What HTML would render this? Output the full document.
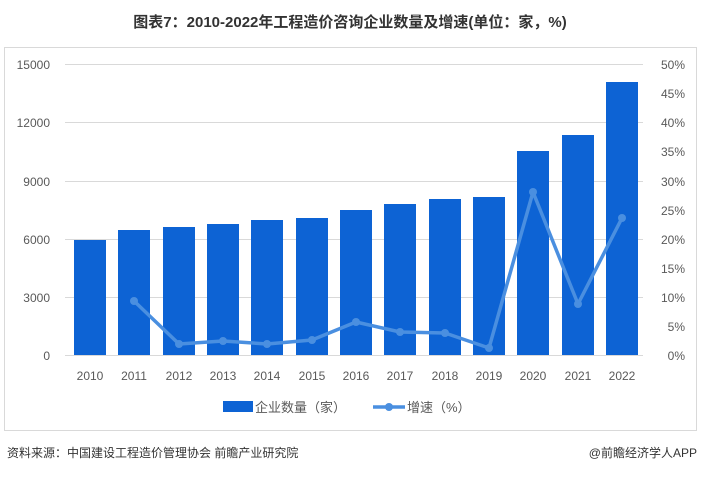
<!DOCTYPE html>
<html><head><meta charset="utf-8"><style>
body{margin:0;background:#fff;width:701px;height:473px;overflow:hidden;font-family:"Liberation Sans","Noto Sans CJK SC",sans-serif}
</style></head><body>
<svg width="701" height="473" xmlns="http://www.w3.org/2000/svg" font-family="Liberation Sans, Noto Sans CJK SC, sans-serif">
<text x="350" y="27" text-anchor="middle" font-size="15" font-weight="bold" fill="#333">图表7：2010-2022年工程造价咨询企业数量及增速(单位：家，%)</text>
<rect x="4.5" y="47.5" width="692" height="383" fill="#fff" stroke="#d9d9d9"/>
<g stroke="#d9d9d9" stroke-width="1">
<line x1="65" x2="643" y1="64.5" y2="64.5"/><line x1="65" x2="643" y1="122.5" y2="122.5"/>
<line x1="65" x2="643" y1="181.5" y2="181.5"/><line x1="65" x2="643" y1="239.5" y2="239.5"/>
<line x1="65" x2="643" y1="297.5" y2="297.5"/><line x1="65" x2="643" y1="355.5" y2="355.5"/>
</g>
<g font-size="12" fill="#595959" text-anchor="end">
<text x="50" y="69">15000</text><text x="50" y="127">12000</text><text x="50" y="186">9000</text>
<text x="50" y="244">6000</text><text x="50" y="302">3000</text><text x="50" y="360">0</text>
</g>
<g font-size="12" fill="#595959" text-anchor="end">
<text x="685" y="69">50%</text><text x="685" y="98">45%</text><text x="685" y="127">40%</text><text x="685" y="156">35%</text><text x="685" y="186">30%</text><text x="685" y="215">25%</text><text x="685" y="244">20%</text><text x="685" y="273">15%</text><text x="685" y="302">10%</text><text x="685" y="331">5%</text><text x="685" y="360">0%</text>
</g>
<g fill="#0d63d4">
<rect x="74" y="240" width="32" height="115"/>
<rect x="118" y="230" width="32" height="125"/>
<rect x="163" y="227" width="32" height="128"/>
<rect x="207" y="224" width="32" height="131"/>
<rect x="251" y="220" width="32" height="135"/>
<rect x="296" y="218" width="32" height="137"/>
<rect x="340" y="210" width="32" height="145"/>
<rect x="384" y="204" width="32" height="151"/>
<rect x="429" y="199" width="32" height="156"/>
<rect x="473" y="197" width="32" height="158"/>
<rect x="517" y="151" width="32" height="204"/>
<rect x="562" y="135" width="32" height="220"/>
<rect x="606" y="82" width="32" height="273"/>
</g>
<polyline fill="none" stroke="#4a8fe0" stroke-width="3.5" stroke-linejoin="round" points="134,301 179,344 223,341 267,344 312,340 356,322 400,332 445,333 489,348 533,192 578,304 622,218"/>
<g fill="#4a8fe0">
<circle cx="134" cy="301" r="4"/><circle cx="179" cy="344" r="4"/><circle cx="223" cy="341" r="4"/><circle cx="267" cy="344" r="4"/><circle cx="312" cy="340" r="4"/><circle cx="356" cy="322" r="4"/><circle cx="400" cy="332" r="4"/><circle cx="445" cy="333" r="4"/><circle cx="489" cy="348" r="4"/><circle cx="533" cy="192" r="4"/><circle cx="578" cy="304" r="4"/><circle cx="622" cy="218" r="4"/>
</g>
<g font-size="12" fill="#595959" text-anchor="middle">
<text x="90" y="380">2010</text><text x="134" y="380">2011</text><text x="179" y="380">2012</text><text x="223" y="380">2013</text><text x="267" y="380">2014</text><text x="312" y="380">2015</text><text x="356" y="380">2016</text><text x="400" y="380">2017</text><text x="445" y="380">2018</text><text x="489" y="380">2019</text><text x="533" y="380">2020</text><text x="578" y="380">2021</text><text x="622" y="380">2022</text>
</g>
<rect x="223" y="401" width="30" height="11" fill="#0d63d4"/>
<text x="255" y="412" font-size="13" fill="#595959">企业数量（家）</text>
<line x1="373" x2="405" y1="407" y2="407" stroke="#4a8fe0" stroke-width="3.5"/>
<circle cx="389" cy="407" r="4" fill="#4a8fe0"/>
<text x="407" y="412" font-size="13" fill="#595959">增速（%）</text>
<text x="7" y="457" font-size="12" fill="#333">资料来源：中国建设工程造价管理协会 前瞻产业研究院</text>
<text x="697" y="457" font-size="12" fill="#333" text-anchor="end">@前瞻经济学人APP</text>
</svg>
</body></html>
